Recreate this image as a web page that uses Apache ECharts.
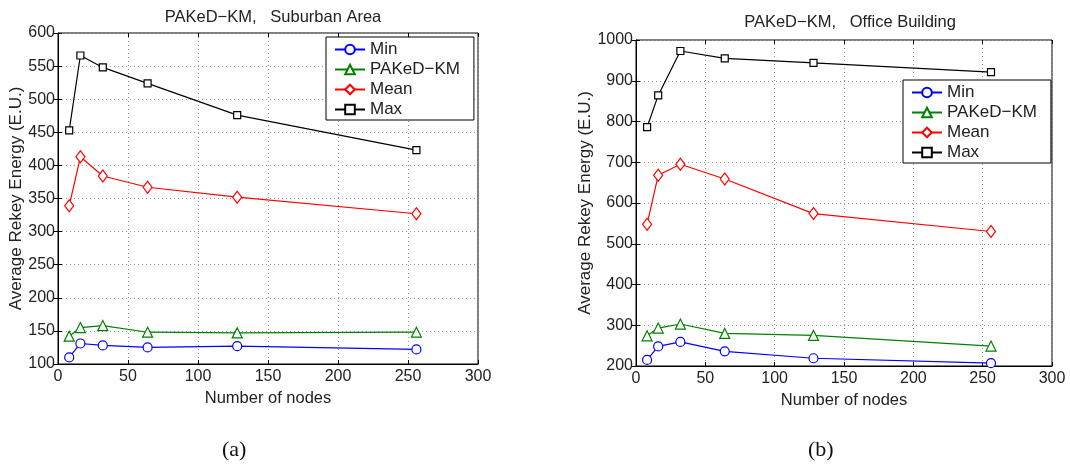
<!DOCTYPE html>
<html>
<head>
<meta charset="utf-8">
<script src="https://cdn.jsdelivr.net/npm/echarts@6/dist/echarts.min.js"></script>
<style>
html,body{margin:0;padding:0;background:#fff;}
#chart{width:1070px;height:467px;}
</style>
</head>
<body>
<div id="chart"></div>
<script>
var nodes = [8, 16, 32, 64, 128, 256];
var seriesNames = ['Min', 'PAKeD\u2212KM', 'Mean', 'Max'];
var aMin   = [110, 131, 128, 125, 127, 122];
var aPaked = [142, 155, 158, 148, 147, 148];
var aMean  = [339, 413, 384, 367, 352, 327];
var aMax   = [453, 566, 548, 524, 476, 423];
var bMin   = [215, 248, 259, 236, 219, 207];
var bPaked = [274, 293, 303, 280, 275, 249];
var bMean  = [548, 668, 695, 659, 574, 530];
var bMax   = [786, 864, 973, 955, 944, 921];
var titleA = 'PAKeD\u2212KM,   Suburban Area';
var titleB = 'PAKeD\u2212KM,   Office Building';
var xName = 'Number of nodes';
var yName = 'Average Rekey Energy (E.U.)';

var FONT = 'Liberation Sans, Arial, sans-serif';
var TXT = '#222';
var styles = [
  {color: '#0000ff', symbol: 'circle', size: 9},
  {color: '#008000', symbol: 'triangle', size: 10},
  {color: '#ff0000', symbol: 'diamond', size: [9, 12]},
  {color: '#000000', symbol: 'rect', size: 7}
];

function pairs(vals) { return nodes.map(function (n, i) { return [n, vals[i]]; }); }

function mkSeries(name, vals, k, gi) {
  var s = styles[k];
  return {
    name: name, type: 'line', xAxisIndex: gi, yAxisIndex: gi,
    data: pairs(vals), symbol: s.symbol, symbolSize: s.size,
    showAllSymbol: true, animation: false,
    lineStyle: {color: s.color, width: 1.2},
    itemStyle: {color: '#ffffff', borderColor: s.color, borderWidth: 1.2},
    emphasis: {disabled: true}
  };
}

function plain(v) { return String(v); }

function mainX(gi, gap) {
  return {
    type: 'value', gridIndex: gi, min: 0, max: 300, interval: 50,
    name: xName, nameLocation: 'middle', nameGap: gap,
    nameTextStyle: {fontFamily: FONT, fontSize: 16.5, color: TXT},
    axisLine: {show: true, onZero: false, lineStyle: {color: '#000', width: 1}},
    axisTick: {show: true, inside: true, length: 4, lineStyle: {color: '#000'}},
    axisLabel: {fontFamily: FONT, fontSize: 16, color: TXT, margin: 5, formatter: plain},
    splitLine: {show: true, lineStyle: {color: '#999', type: [1, 3], width: 1}}
  };
}
function topX(gi) {
  return {
    type: 'value', gridIndex: gi, position: 'top', min: 0, max: 300, interval: 50,
    axisLine: {show: false}, axisLabel: {show: false}, splitLine: {show: false},
    axisTick: {show: true, inside: true, length: 4, lineStyle: {color: '#000'}}
  };
}
function mainY(gi, min, max, step, gap) {
  return {
    type: 'value', gridIndex: gi, min: min, max: max, interval: step,
    name: yName, nameLocation: 'middle', nameGap: gap,
    nameTextStyle: {fontFamily: FONT, fontSize: 17, color: TXT},
    axisLine: {show: true, onZero: false, lineStyle: {color: '#000', width: 1}},
    axisTick: {show: true, inside: true, length: 4, lineStyle: {color: '#000'}},
    axisLabel: {fontFamily: FONT, fontSize: 16, color: TXT, margin: 3, formatter: plain},
    splitLine: {show: true, lineStyle: {color: '#999', type: [1, 3], width: 1}}
  };
}
function rightY(gi, min, max, step) {
  return {
    type: 'value', gridIndex: gi, position: 'right', min: min, max: max, interval: step,
    axisLine: {show: false}, axisLabel: {show: false}, splitLine: {show: false},
    axisTick: {show: true, inside: true, length: 4, lineStyle: {color: '#000'}}
  };
}
function mkLegend(left, top) {
  return {
    orient: 'vertical', left: left, top: top, data: seriesNames,
    itemWidth: 30, itemHeight: 12, itemGap: 3,
    padding: [4, 14, 2, 8], borderColor: '#000', borderWidth: 1,
    backgroundColor: '#fff', selectedMode: false,
    textStyle: {fontFamily: FONT, fontSize: 17, lineHeight: 17, color: TXT}
  };
}

var chart = echarts.init(document.getElementById('chart'), null, {renderer: 'canvas'});
chart.setOption({
  animation: false,
  backgroundColor: '#fff',
  title: [
    {text: titleA, left: 268, top: 4, textAlign: 'center',
     textStyle: {fontFamily: FONT, fontSize: 16.5, fontWeight: 'normal', color: TXT}},
    {text: titleB, left: 845, top: 9, textAlign: 'center',
     textStyle: {fontFamily: FONT, fontSize: 16.5, fontWeight: 'normal', color: TXT}}
  ],
  grid: [
    {left: 58, top: 33, width: 420, height: 331, show: true, borderColor: '#000', borderWidth: 1, containLabel: false},
    {left: 636, top: 40, width: 416, height: 326, show: true, borderColor: '#000', borderWidth: 1, containLabel: false}
  ],
  legend: [mkLegend(326, 37), mkLegend(903, 80)],
  xAxis: [mainX(0, 17), mainX(1, 15), topX(0), topX(1)],
  yAxis: [mainY(0, 100, 600, 50, 31), mainY(1, 200, 1000, 100, 37), rightY(0, 100, 600, 50), rightY(1, 200, 1000, 100)],
  series: [
    mkSeries(seriesNames[0], aMin, 0, 0),
    mkSeries(seriesNames[1], aPaked, 1, 0),
    mkSeries(seriesNames[2], aMean, 2, 0),
    mkSeries(seriesNames[3], aMax, 3, 0),
    mkSeries(seriesNames[0], bMin, 0, 1),
    mkSeries(seriesNames[1], bPaked, 1, 1),
    mkSeries(seriesNames[2], bMean, 2, 1),
    mkSeries(seriesNames[3], bMax, 3, 1)
  ],
  graphic: [
    {type: 'text', left: 222, top: 439, style: {text: '(a)', font: '22px "Liberation Serif", "DejaVu Serif", serif', fill: '#111'}},
    {type: 'text', left: 808, top: 439, style: {text: '(b)', font: '22px "Liberation Serif", "DejaVu Serif", serif', fill: '#111'}}
  ]
});
</script>
</body>
</html>
